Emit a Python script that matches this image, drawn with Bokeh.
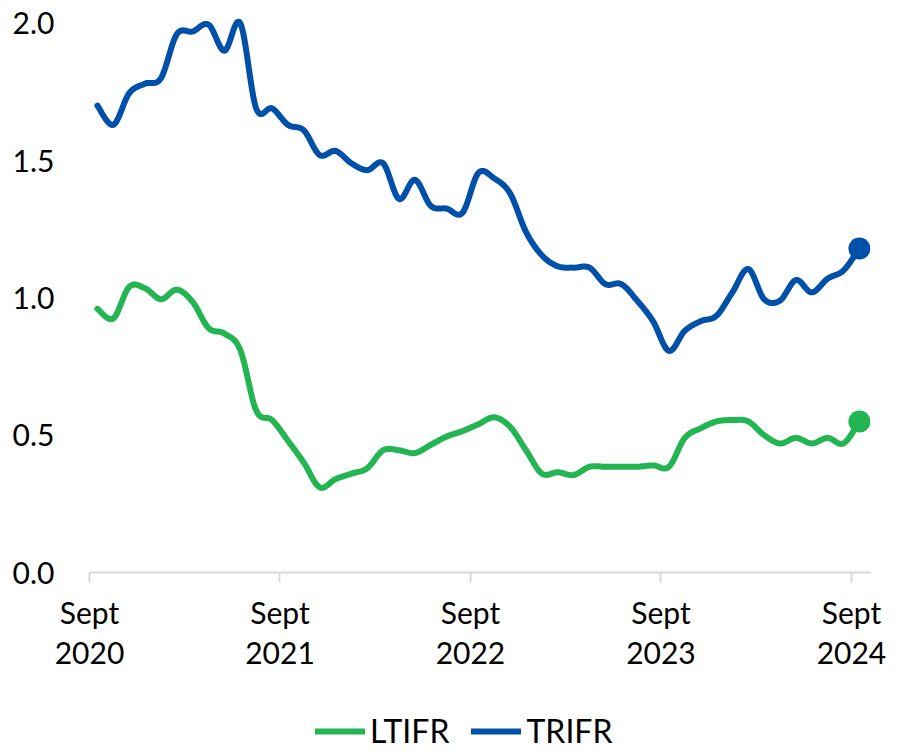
import numpy as np
from bokeh.plotting import figure
from bokeh.layouts import column
from bokeh.models import Range1d, FixedTicker, Legend, LegendItem, PrintfTickFormatter
from bokeh.embed import file_html
from bokeh.resources import INLINE

# Monthly data, Sept 2020 .. Sept 2024 (49 months)
months = [f"{m} {y}" for y in range(2020, 2025) for m in
          ["Jan", "Feb", "Mar", "Apr", "May", "Jun", "Jul", "Aug", "Sep", "Oct", "Nov", "Dec"]][8:8 + 49]

ltifr = [0.96, 0.925, 1.04, 1.035, 0.995, 1.03, 0.985, 0.89, 0.87, 0.81,
         0.59, 0.555, 0.48, 0.40, 0.31, 0.34, 0.36, 0.38, 0.445, 0.445,
         0.435, 0.465, 0.495, 0.515, 0.54, 0.565, 0.53, 0.445, 0.36, 0.365,
         0.355, 0.385, 0.385, 0.385, 0.385, 0.39, 0.385, 0.49, 0.525, 0.55,
         0.555, 0.55, 0.50, 0.47, 0.49, 0.47, 0.49, 0.47, 0.55]

trifr = [1.70, 1.63, 1.745, 1.78, 1.80, 1.96, 1.97, 1.995, 1.90, 2.00,
         1.69, 1.69, 1.63, 1.61, 1.52, 1.535, 1.49, 1.465, 1.49, 1.36,
         1.43, 1.335, 1.325, 1.31, 1.455, 1.435, 1.38, 1.24, 1.155, 1.115,
         1.11, 1.11, 1.05, 1.05, 0.99, 0.915, 0.807, 0.88, 0.915, 0.935,
         1.02, 1.105, 0.995, 0.99, 1.065, 1.02, 1.07, 1.10, 1.18]

tick_positions = [0, 12, 24, 36, 48]
tick_labels = ["Sept\n2020", "Sept\n2021", "Sept\n2022", "Sept\n2023", "Sept\n2024"]
y_ticks = [0.0, 0.5, 1.0, 1.5, 2.0]
series_names = ["LTIFR", "TRIFR"]

GREEN = "#22B552"
BLUE = "#0050AA"
FONT = "Lato"

x = np.arange(len(months)) + 0.5


def smooth(xs, ys, n=16):
    xs = np.asarray(xs, float)
    ys = np.asarray(ys, float)
    px = np.concatenate([[xs[0]], xs, [xs[-1]]])
    py = np.concatenate([[ys[0]], ys, [ys[-1]]])
    outx, outy = [], []
    t = np.linspace(0, 1, n, endpoint=False)
    for i in range(1, len(px) - 2):
        for arr, out in ((px, outx), (py, outy)):
            p0, p1, p2, p3 = arr[i - 1], arr[i], arr[i + 1], arr[i + 2]
            out.extend(0.5 * ((2 * p1) + (-p0 + p2) * t +
                              (2 * p0 - 5 * p1 + 4 * p2 - p3) * t ** 2 +
                              (-p0 + 3 * p1 - 3 * p2 + p3) * t ** 3))
    outx.append(xs[-1])
    outy.append(ys[-1])
    return outx, outy


p = figure(width=897, height=705, x_range=Range1d(0, 49.2), y_range=Range1d(0, 2.05),
           output_backend="svg", toolbar_location=None,
           min_border_left=89, min_border_right=27, min_border_top=9, min_border_bottom=133)
p.outline_line_color = None
p.xgrid.visible = False
p.ygrid.visible = False

gx, gy = smooth(x, ltifr)
bx, by = smooth(x, trifr)
p.line(gx, gy, line_color=GREEN, line_width=6, line_cap="round", line_join="round")
p.line(bx, by, line_color=BLUE, line_width=6, line_cap="round", line_join="round")
p.scatter([x[-1]], [ltifr[-1]], size=22, fill_color=GREEN, line_color=None)
p.scatter([x[-1]], [trifr[-1]], size=22, fill_color=BLUE, line_color=None)

xa = p.xaxis[0]
xa.ticker = FixedTicker(ticks=tick_positions)
xa.major_label_overrides = {t: l for t, l in zip(tick_positions, tick_labels)}
xa.minor_tick_line_color = None
xa.axis_line_color = "#D9D9D9"
xa.axis_line_width = 2
xa.major_tick_line_color = "#D9D9D9"
xa.major_tick_line_width = 2
xa.major_tick_in = 0
xa.major_tick_out = 10
xa.major_label_standoff = 11
xa.major_label_text_font = FONT
xa.major_label_text_font_size = "30px"
xa.major_label_text_line_height = 1.12
xa.major_label_text_color = "#000000"

ya = p.yaxis[0]
ya.ticker = FixedTicker(ticks=y_ticks)
ya.formatter = PrintfTickFormatter(format="%.1f")
ya.axis_line_color = None
ya.major_tick_line_color = None
ya.minor_tick_line_color = None
ya.major_label_standoff = 29
ya.major_label_text_font = FONT
ya.major_label_text_font_size = "30px"
ya.major_label_text_color = "#000000"

# Legend strip below the chart (series drawn out of view; only the legend shows)
pl = figure(width=897, height=45, x_range=Range1d(0, 49.2), y_range=Range1d(10, 11),
            output_backend="svg", toolbar_location=None,
            x_axis_location=None, y_axis_location=None,
            min_border_left=0, min_border_right=0, min_border_top=0, min_border_bottom=0)
pl.outline_line_color = None
pl.xgrid.visible = False
pl.ygrid.visible = False
lg = pl.line(x, ltifr, line_color=GREEN, line_width=6, line_cap="round")
lb = pl.line(x, trifr, line_color=BLUE, line_width=6, line_cap="round")

legend = Legend(items=[LegendItem(label=series_names[0], renderers=[lg]),
                       LegendItem(label=series_names[1], renderers=[lb])],
                location=(226, 0), orientation="horizontal",
                glyph_width=50, glyph_height=20, label_standoff=5, spacing=22,
                padding=0, margin=0, border_line_color=None, background_fill_alpha=0,
                label_text_font=FONT, label_text_font_size="32px", label_text_color="#000000")
pl.add_layout(legend, "center")

open("out.html", "w").write(file_html(column(p, pl, spacing=0), INLINE))
